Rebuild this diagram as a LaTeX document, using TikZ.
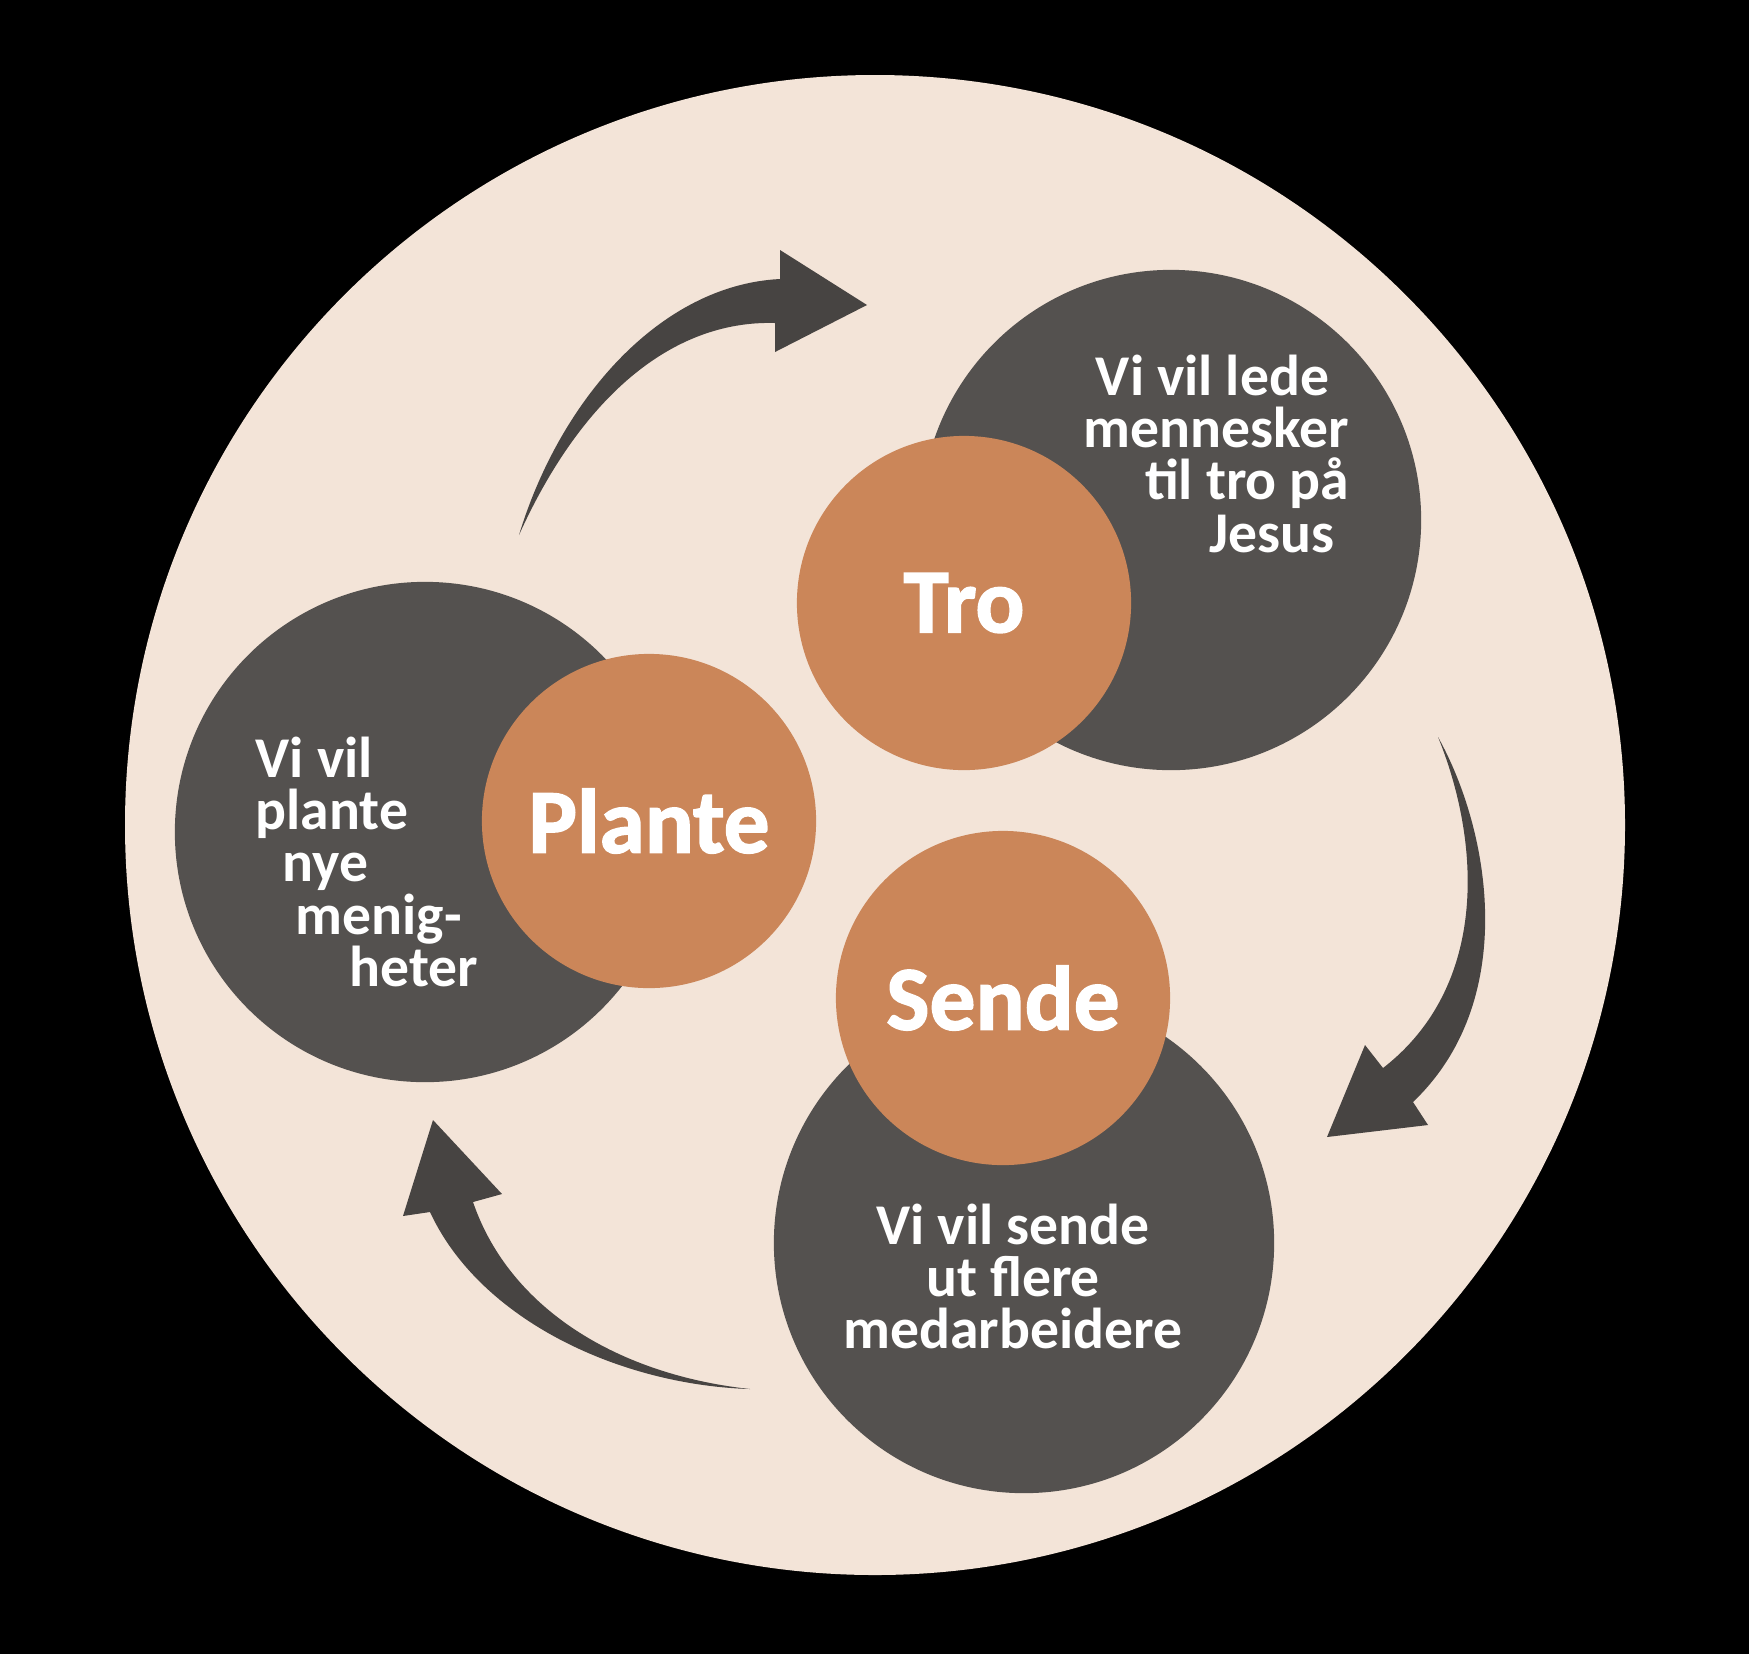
\documentclass[tikz,border=0pt]{standalone}
\usepackage{fontspec}
\setmainfont{Carlito}
\newfontfamily\heavyfont{Carlito}[BoldFeatures = {FakeBold = 1.6}]
\usepackage{tikz}

\definecolor{sand}{HTML}{F3E4D8}
\definecolor{slate}{HTML}{54514F}
\definecolor{clay}{HTML}{CB8659}
\definecolor{swooshgray}{HTML}{474442}

\tikzset{
  bigdisc/.style = {circle, fill = slate, minimum size = 5cm, inner sep = 0},
  smalldisc/.style = {circle, fill = clay, minimum size = 3.34cm, inner sep = 0,
    text = white, font = \fontsize{26}{26}\selectfont\heavyfont\bfseries},
  note/.style = {text = white, inner sep = 0, font = \fontsize{16.4}{14.9}\selectfont\bfseries},
  swoosh/.style = {fill = swooshgray}
}

\begin{document}
\begin{tikzpicture}[x = 0.01cm, y = -0.01cm]
      \fill [black] (0,0) rectangle (1749,1654);
      \fill [sand] (875,825) circle [radius = 750];
      \fill [swoosh] (519,535) .. controls (560,400) and (660,285) .. (780,279)
        -- (780,250) -- (867,305) -- (775,352) -- (775,323)
        .. controls (670,320) and (580,400) .. (519,535) -- cycle;
      \fill [swoosh] (1438,737) .. controls (1490,830) and (1520,1000) .. (1413,1102)
        -- (1428,1125) -- (1327,1137) -- (1365,1045) -- (1383,1068)
        .. controls (1490,985) and (1480,840) .. (1438,737) -- cycle;
      \fill [swoosh] (750,1389) .. controls (620,1385) and (480,1320) .. (430,1212)
        -- (403,1216) -- (433,1120) -- (502,1194) -- (473,1202)
        .. controls (510,1310) and (620,1375) .. (750,1389) -- cycle;
      \node [bigdisc] (troback) at (1171,520) {};
      \node [bigdisc] (planteback) at (425,832) {};
      \node [bigdisc] (sendeback) at (1024,1243) {};
      \node [smalldisc] (tro) at (964,603) {Tro};
      \node [smalldisc] (plante) at (649,821) {Plante};
      \node [smalldisc] (sende) at (1003,998) {Sende};
      \node [note, align = right, anchor = north east] (trotext) at (1350,354)
        {Vi vil lede\hspace*{0.35em}\\ mennesker\\ til tro på\hspace*{0.07em}\\ Jesus\hspace*{0.26em}};
      \node [note, align = left, anchor = north west] (plantetext) at (255,736)
        {Vi vil\\ plante\\ \hspace*{7.7pt}nye\\ \hspace*{11.4pt}menig-\\ \hspace*{26.7pt}heter};
      \node [note, align = center, anchor = north] (sendetext) at (1013,1203)
        {Vi vil sende\\ ut flere\\ medarbeidere};
    \end{tikzpicture}
\end{document}
